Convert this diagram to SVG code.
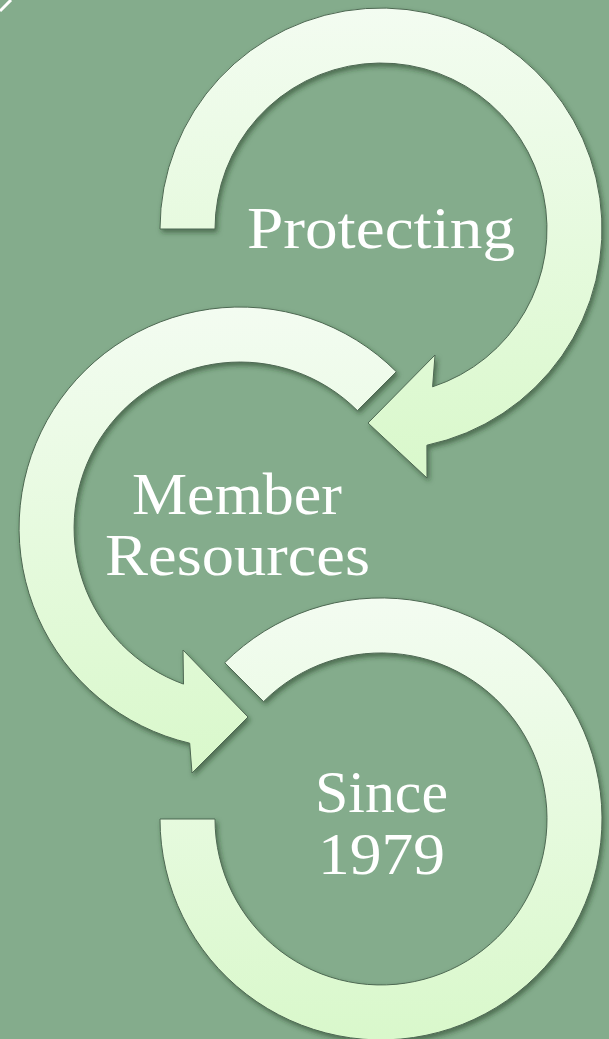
<svg xmlns="http://www.w3.org/2000/svg" width="609" height="1039" viewBox="0 0 609 1039">
<defs>
<linearGradient id="fillGrad" x1="0" y1="0" x2="0" y2="1">
<stop offset="0" stop-color="#F3FCF1"/>
<stop offset="1" stop-color="#D9F8CB"/>
</linearGradient>
<filter id="shadow" x="-10%" y="-10%" width="120%" height="120%">
<feDropShadow dx="2" dy="3" stdDeviation="2.5" flood-color="#1F3A24" flood-opacity="0.55"/>
</filter>
<style>
.arrow{fill:url(#fillGrad);stroke:#4D6852;stroke-width:1;filter:url(#shadow)}
.label{font-family:"Liberation Serif","Times New Roman",serif;font-size:60px;fill:#FFFFFF;text-anchor:middle}
</style>
</defs>
<rect x="0" y="0" width="609" height="1039" fill="#84AC8C"/>
<line x1="0" y1="11" x2="11" y2="0" stroke="#FFFFFF" stroke-width="3"/>
<g id="connectors">
<path id="arrow-protecting" class="arrow" d="M160,229 A221,221 0 1 1 426.9,445.2 L427,478 L368,423 L435,355 L432.6,386.8 A166,166 0 1 0 215,229 Z"/>
<path id="arrow-member" class="arrow" d="M396.3,371.7 A221,221 0 1 0 189.7,743.2 L192,773 L248,717 L183,650 L183.5,684.1 A166,166 0 1 1 357.4,410.6 Z"/>
<path id="arrow-since" class="arrow" d="M224.7,662.7 A221,221 0 1 1 160,819 L215,819 A166,166 0 1 0 263.6,701.6 Z"/>
</g>
<g id="node-protecting">
<text class="label" x="381" y="248" textLength="268" lengthAdjust="spacingAndGlyphs">Protecting</text>
</g>
<g id="node-member">
<text class="label" x="237" y="514" textLength="210" lengthAdjust="spacingAndGlyphs">Member</text>
<text class="label" x="237.5" y="575" textLength="265" lengthAdjust="spacingAndGlyphs">Resources</text>
</g>
<g id="node-since">
<text class="label" x="381.5" y="812" textLength="133" lengthAdjust="spacingAndGlyphs">Since</text>
<text class="label" x="381.5" y="874" textLength="127" lengthAdjust="spacingAndGlyphs">1979</text>
</g>
</svg>
